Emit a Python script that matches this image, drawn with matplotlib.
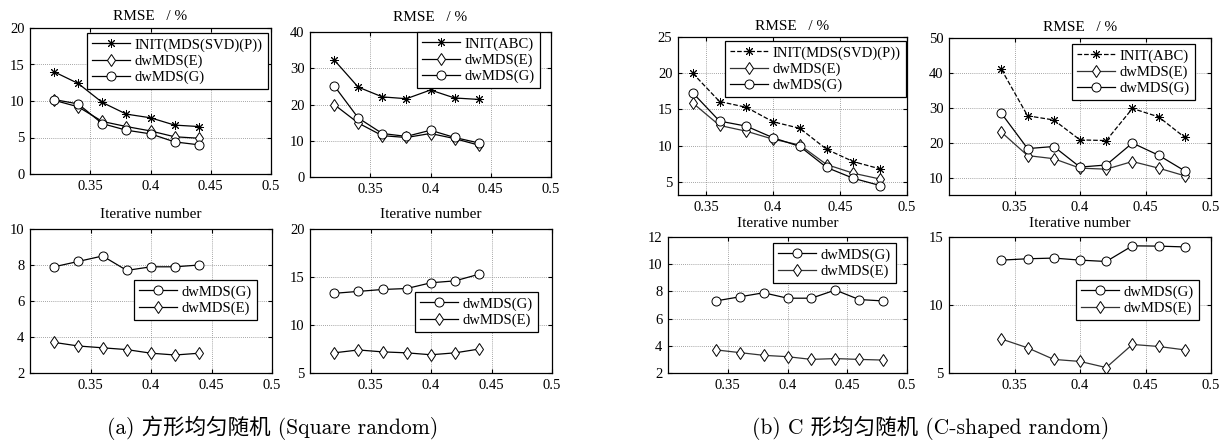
import numpy as np
import matplotlib
matplotlib.use('Agg')
from matplotlib import pyplot as plt

plt.rcParams['font.family'] = ['Liberation Serif', 'DejaVu Serif']
plt.rcParams['font.size'] = 10.5

W, H = 1228, 445

# 横轴
x_a = [0.32, 0.34, 0.36, 0.38, 0.40, 0.42, 0.44]
x_b = [0.34, 0.36, 0.38, 0.40, 0.42, 0.44, 0.46, 0.48]

# (a) 方形 RMSE
a_init_p = [14.0, 12.4, 9.8, 8.2, 7.7, 6.7, 6.5]
a_e_p = [10.1, 9.2, 7.2, 6.5, 5.9, 5.1, 4.9]
a_g_p = [10.2, 9.6, 6.9, 6.0, 5.5, 4.4, 4.0]
a_init_abc = [32.3, 24.8, 22.1, 21.6, 24.0, 21.8, 21.4]
a_e_abc = [20.0, 14.9, 11.4, 10.9, 12.0, 10.6, 8.8]
a_g_abc = [25.2, 16.3, 12.0, 11.2, 12.9, 10.9, 9.4]
# (a) 迭代次数
a_it_g1 = [7.9, 8.2, 8.5, 7.7, 7.9, 7.9, 8.0]
a_it_e1 = [3.7, 3.5, 3.4, 3.3, 3.1, 3.0, 3.1]
a_it_g2 = [13.3, 13.5, 13.7, 13.8, 14.4, 14.6, 15.3]
a_it_e2 = [7.1, 7.4, 7.2, 7.1, 6.9, 7.1, 7.5]

# (b) C形 RMSE
b_init_p = [20.0, 16.1, 15.3, 13.3, 12.4, 9.5, 7.8, 6.8]
b_e_p = [15.9, 12.8, 12.0, 10.9, 10.1, 7.4, 6.2, 5.4]
b_g_p = [17.3, 13.4, 12.7, 11.1, 9.9, 7.0, 5.5, 4.5]
b_init_abc = [41.0, 27.7, 26.5, 20.8, 20.6, 29.8, 27.4, 21.5]
b_e_abc = [23.0, 16.3, 15.4, 12.7, 12.4, 14.6, 12.7, 10.5]
b_g_abc = [28.4, 18.3, 18.9, 13.0, 13.6, 19.9, 16.4, 11.9]
# (b) 迭代次数
b_it_g1 = [7.3, 7.6, 7.9, 7.5, 7.5, 8.1, 7.4, 7.3]
b_it_e1 = [3.7, 3.5, 3.3, 3.2, 3.0, 3.06, 3.0, 2.95]
b_it_g2 = [13.3, 13.4, 13.45, 13.3, 13.2, 14.35, 14.33, 14.27]
b_it_e2 = [7.5, 6.85, 6.0, 5.85, 5.4, 7.1, 6.95, 6.7]

xticks = [0.35, 0.4, 0.45, 0.5]
caption_a = '(a) 方形均匀随机 (Square random)'
caption_b = '(b) C 形均匀随机 (C-shaped random)'

ast = (8, 2, 0)   # matlab 风格的星号


def make_ax(fig, box, xlim, ylim, yticks):
    # box: 像素 (左, 上, 右, 下)
    l, t, r, b = box
    ax = fig.add_axes([l / W, 1 - b / H, (r - l) / W, (b - t) / H])
    ax.set_xlim(xlim)
    ax.set_ylim(ylim)
    ax.set_xticks(xticks)
    ax.set_xticklabels(['0.35', '0.4', '0.45', '0.5'])
    ax.set_yticks(yticks)
    ax.grid(True, ls=(0, (1, 1.5)), color='#888888', lw=0.6)
    ax.tick_params(direction='in', length=3, top=True, right=True, pad=4, labelsize=10.5)
    for s in ax.spines.values():
        s.set_linewidth(0.9)
    return ax


def put_legend(ax, fig, x0, y0):
    leg = ax.legend(loc='upper left', bbox_to_anchor=(x0 / W, 1 - y0 / H),
                    bbox_transform=fig.transFigure, borderaxespad=0,
                    fancybox=False, edgecolor='black', framealpha=1,
                    fontsize=10.5, handlelength=2.6, labelspacing=0.2,
                    borderpad=0.35, handletextpad=0.3, numpoints=1)
    leg.get_frame().set_linewidth(0.9)
    return leg


def line(ax, x, y, m, label, ls='-', c='black'):
    ax.plot(x, y, ls=ls, color=c, lw=0.9, marker=m, ms=6.5,
            mfc='white', mec='black', mew=0.7, label=label)


fig = plt.figure(figsize=(W / 100, H / 100), dpi=100)

###(a) 上排
ax = make_ax(fig, (30, 28, 271, 174), (0.30, 0.50), (0, 20), [0, 5, 10, 15, 20])
line(ax, x_a, a_init_p, ast, 'INIT(MDS(SVD)(P))')
line(ax, x_a, a_e_p, 'd', 'dwMDS(E)')
line(ax, x_a, a_g_p, 'o', 'dwMDS(G)')
ax.set_title('RMSE   / %', pad=5.5, fontsize=11)
put_legend(ax, fig, 87, 33)

ax = make_ax(fig, (310, 32, 551, 177), (0.30, 0.50), (0, 40), [0, 10, 20, 30, 40])
line(ax, x_a, a_init_abc, ast, 'INIT(ABC)')
line(ax, x_a, a_e_abc, 'd', 'dwMDS(E)')
line(ax, x_a, a_g_abc, 'o', 'dwMDS(G)')
ax.set_title('RMSE   / %', pad=8, fontsize=11)
put_legend(ax, fig, 417, 32)

###(a) 下排
ax = make_ax(fig, (30, 229, 272, 373), (0.30, 0.50), (2, 10), [2, 4, 6, 8, 10])
line(ax, x_a, a_it_g1, 'o', 'dwMDS(G)')
line(ax, x_a, a_it_e1, 'd', 'dwMDS(E)')
ax.set_title('Iterative number', pad=8, fontsize=11)
put_legend(ax, fig, 134, 280)

ax = make_ax(fig, (310, 229, 552, 373), (0.30, 0.50), (5, 20), [5, 10, 15, 20])
line(ax, x_a, a_it_g2, 'o', 'dwMDS(G)')
line(ax, x_a, a_it_e2, 'd', 'dwMDS(E)')
ax.set_title('Iterative number', pad=8, fontsize=11)
put_legend(ax, fig, 415, 292)

###(b) 上排
ax = make_ax(fig, (678, 37, 907, 195), (0.329, 0.50), (3.2, 25), [5, 10, 15, 20, 25])
line(ax, x_b, b_init_p, ast, 'INIT(MDS(SVD)(P))', ls='--')
line(ax, x_b, b_e_p, 'd', 'dwMDS(E)', c='#333333')
line(ax, x_b, b_g_p, 'o', 'dwMDS(G)')
ax.set_title('RMSE   / %', pad=5, fontsize=11)
put_legend(ax, fig, 725, 41)

ax = make_ax(fig, (949, 38, 1211, 195), (0.30, 0.50), (5, 50), [10, 20, 30, 40, 50])
line(ax, x_b, b_init_abc, ast, 'INIT(ABC)', ls='--')
line(ax, x_b, b_e_abc, 'd', 'dwMDS(E)', c='#333333')
line(ax, x_b, b_g_abc, 'o', 'dwMDS(G)')
ax.set_title('RMSE   / %', pad=5, fontsize=11)
put_legend(ax, fig, 1072, 44)

###(b) 下排
ax = make_ax(fig, (668, 237, 907, 373), (0.30, 0.50), (2, 12), [2, 4, 6, 8, 10, 12])
line(ax, x_b, b_it_g1, 'o', 'dwMDS(G)')
line(ax, x_b, b_it_e1, 'd', 'dwMDS(E)', c='#333333')
ax.set_title('Iterative number', pad=7, fontsize=11)
put_legend(ax, fig, 773, 243)

ax = make_ax(fig, (949, 237, 1211, 373), (0.30, 0.50), (5, 15), [5, 10, 15])
line(ax, x_b, b_it_g2, 'o', 'dwMDS(G)')
line(ax, x_b, b_it_e2, 'd', 'dwMDS(E)', c='#333333')
ax.set_title('Iterative number', pad=7, fontsize=11)
put_legend(ax, fig, 1076, 280)

# 图注
fig.text(273 / W, 1 - 428 / H, caption_a, ha='center', va='center', fontsize=15.5,
         family=['cmr10', 'Noto Sans CJK SC'])
fig.text(931 / W, 1 - 428 / H, caption_b, ha='center', va='center', fontsize=15.5,
         family=['cmr10', 'Noto Sans CJK SC'])

fig.savefig('out.png', dpi=100)
